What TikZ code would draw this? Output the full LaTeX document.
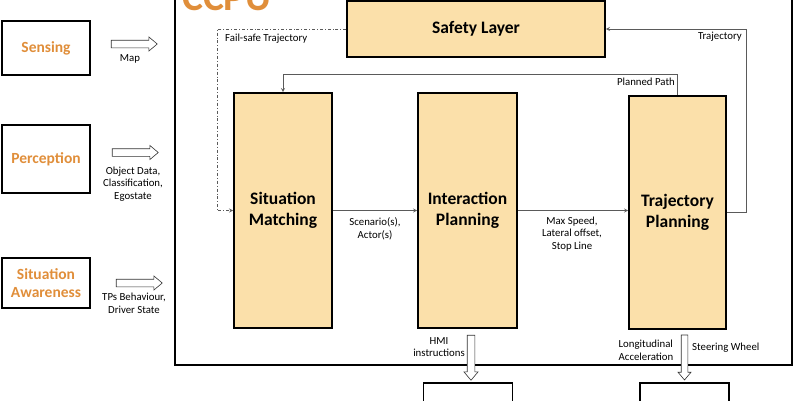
\documentclass[tikz,border=0pt]{standalone}
\usepackage{fontspec}
\setmainfont{Carlito}
\usetikzlibrary{shapes.arrows}
\definecolor{ccpuorange}{RGB}{224,142,58}
\definecolor{blockfill}{RGB}{251,224,170}
\definecolor{wiregray}{RGB}{90,90,90}

\begin{document}
\begin{tikzpicture}[x=1pt, y=-1pt, >=stealth,
	source/.style={draw, line width=2.5pt, minimum width=88, align=center, text=ccpuorange, font=\bfseries\fontsize{15.5}{18.5}\selectfont},
	block/.style={draw, line width=1.8pt, fill=blockfill, align=center, font=\bfseries\fontsize{17.5}{21}\selectfont},
	sink/.style={draw, line width=1.8pt, minimum width=89, minimum height=44},
	hollow/.style={single arrow, draw=black!80, fill=white, line width=0.6pt, inner sep=3.5, minimum width=0, single arrow head extend=3.2, single arrow tip angle=80, minimum height=46},
	lbl/.style={font=\fontsize{10.8}{12.6}\selectfont, align=center, inner sep=1},
	wire/.style={draw=wiregray, line width=0.8pt}]
		\useasboundingbox (0,0) rectangle (795,400);
		\clip (0,0) rectangle (795,400);

		\foreach \m/\t/\y/\h in {1/Sensing/48/54, 2/Perception/159/68, 3/{Situation\\Awareness}/283/50}
		\node [source, minimum height=\h] (source-\m) at (46,\y) {\t};

		\foreach \x/\y [count=\i] in {132/44, 133/152.5, 137/283}
		\node [hollow] (feed-\i) at (\x,\y) {};

		\foreach \x/\y/\l [count=\i] in {130/59/Map, 133/184/{Object Data,\\Classification,\\Egostate}, 134/303/{TPs Behaviour,\\Driver State}}
		\node [lbl] (feed-label-\i) at (\x,\y) {\l};

		\node [draw, line width=2pt, minimum width=617, minimum height=380, inner sep=0] (ccpu) at (483.5,175) {};
		\node [anchor=base west, inner sep=0, text=ccpuorange, font=\bfseries\fontsize{39.5}{42}\selectfont] (ccpu-title) at (182,10) {CCPU};

		\node [block, minimum width=258, minimum height=56] (safety) at (476,29) {Safety Layer};
		\node [block, minimum width=98, minimum height=235] (matching) at (283,210.5) {Situation\\Matching};
		\node [block, minimum width=99, minimum height=235] (interaction) at (467.5,210.5) {Interaction\\Planning};
		\node [block, minimum width=97, minimum height=233] (trajectory) at (677.5,212.5) {Trajectory\\Planning};

		\draw [wire, ->] (trajectory.north) -- ++(0,-21) -| (matching.north);
		\node [lbl, anchor=east] (planned-label) at (676,82) {Planned Path};

		\draw [wire, ->] (trajectory.east) -- ++(19,0) |- (safety.east);
		\node [lbl, anchor=east] (trajectory-label) at (743,37) {Trajectory};

		\coordinate (failsafe-turn) at (217,210.5);
		\draw [wire, dashdotted, ->] (safety.west) -| (failsafe-turn) -- (matching.west);
		\node [lbl, anchor=west] (failsafe-label) at (224,39) {Fail-safe Trajectory};

		\draw [wire, ->] (matching) -- (interaction);
		\node [lbl] (scenario-label) at (375,229) {Scenario(s),\\Actor(s)};

		\draw [wire, ->] (interaction.east) -- (interaction.east -| trajectory.west);
		\node [lbl] (limits-label) at (572,234) {Max Speed,\\Lateral offset,\\Stop Line};

		\node [hollow, shape border rotate=270, minimum height=45, inner sep=3.5] (hmi-arrow) at (471,355.5) {};
		\node [hollow, shape border rotate=270, minimum height=45, inner sep=3] (control-arrow) at (684.5,355.5) {};
		\node [lbl] (hmi-label) at (439,347) {HMI\\instructions};
		\node [lbl, align=left] (long-label) at (646,350) {Longitudinal\\Acceleration};
		\node [lbl, anchor=west] (steer-label) at (691,348) {Steering Wheel};

		\node [sink] (hmi) at (468,405) {};
		\node [sink] (vehicle) at (684.5,405) {};
	\end{tikzpicture}
\end{document}
